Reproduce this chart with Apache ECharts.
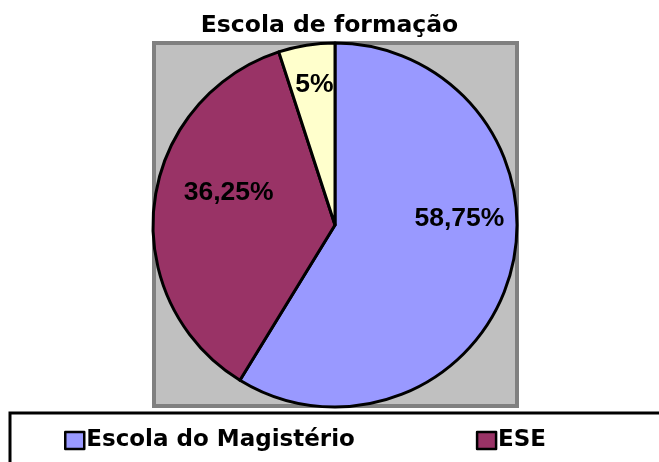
<!DOCTYPE html>
<html>
<head>
<meta charset="utf-8">
<script src="https://cdn.jsdelivr.net/npm/echarts@6/dist/echarts.min.js"></script>
<style>
  html, body { margin: 0; padding: 0; background: #fff; }
  #chart { width: 659px; height: 462px; }
</style>
</head>
<body>
<div id="chart"></div>
<script>
// dados
var categorias = ["Escola do Magistério", "ESE", "Outra"];
var valores = [58.75, 36.25, 5];
var cores = ["#9999FF", "#993366", "#FFFFCC"];

// deslocamento das etiquetas (como no Excel)
var desvio = [[34, -32], [-13, -21], [-6, -47]];

var chart = echarts.init(document.getElementById("chart"));

var option = {
  animation: false,
  title: {
    text: "Escola de formação",
    left: "center",
    top: 14,
    padding: 0,
    textStyle: {
      fontFamily: "DejaVu Sans",
      fontWeight: "bold",
      fontSize: 23.5,
      color: "#000"
    }
  },
  graphic: [
    {
      type: "rect",
      z: -10,
      shape: { x: 154, y: 43, width: 363, height: 363 },
      style: { fill: "#c0c0c0", stroke: "#808080", lineWidth: 4 }
    },
    {
      type: "rect",
      z: -10,
      shape: { x: 10, y: 413, width: 700, height: 100 },
      style: { fill: "#fff", stroke: "#000", lineWidth: 3 }
    }
  ],
  legend: {
    data: categorias.slice(0, 2),
    left: 64,
    top: 429,
    padding: 0,
    itemGap: 121,
    itemWidth: 19,
    itemHeight: 17,
    icon: "rect",
    itemStyle: { borderColor: "#000", borderWidth: 2.5 },
    textStyle: {
      fontFamily: "DejaVu Sans",
      fontWeight: "bold",
      fontSize: 23,
      color: "#000",
      padding: [0, 0, 0, -3]
    }
  },
  series: [
    {
      type: "pie",
      center: [335, 225],
      radius: 182,
      startAngle: 90,
      clockwise: true,
      silent: true,
      itemStyle: { borderColor: "#000", borderWidth: 3 },
      label: {
        show: true,
        position: "inside",
        fontFamily: "Liberation Sans",
        fontWeight: "bold",
        fontSize: 26.5,
        color: "#000",
        formatter: function (p) {
          return String(p.value).replace(".", ",") + "%";
        }
      },
      labelLayout: function (p) {
        return { dx: desvio[p.dataIndex][0], dy: desvio[p.dataIndex][1] };
      },
      data: categorias.map(function (c, i) {
        return { name: c, value: valores[i], itemStyle: { color: cores[i] } };
      })
    }
  ]
};

chart.setOption(option);
</script>
</body>
</html>
